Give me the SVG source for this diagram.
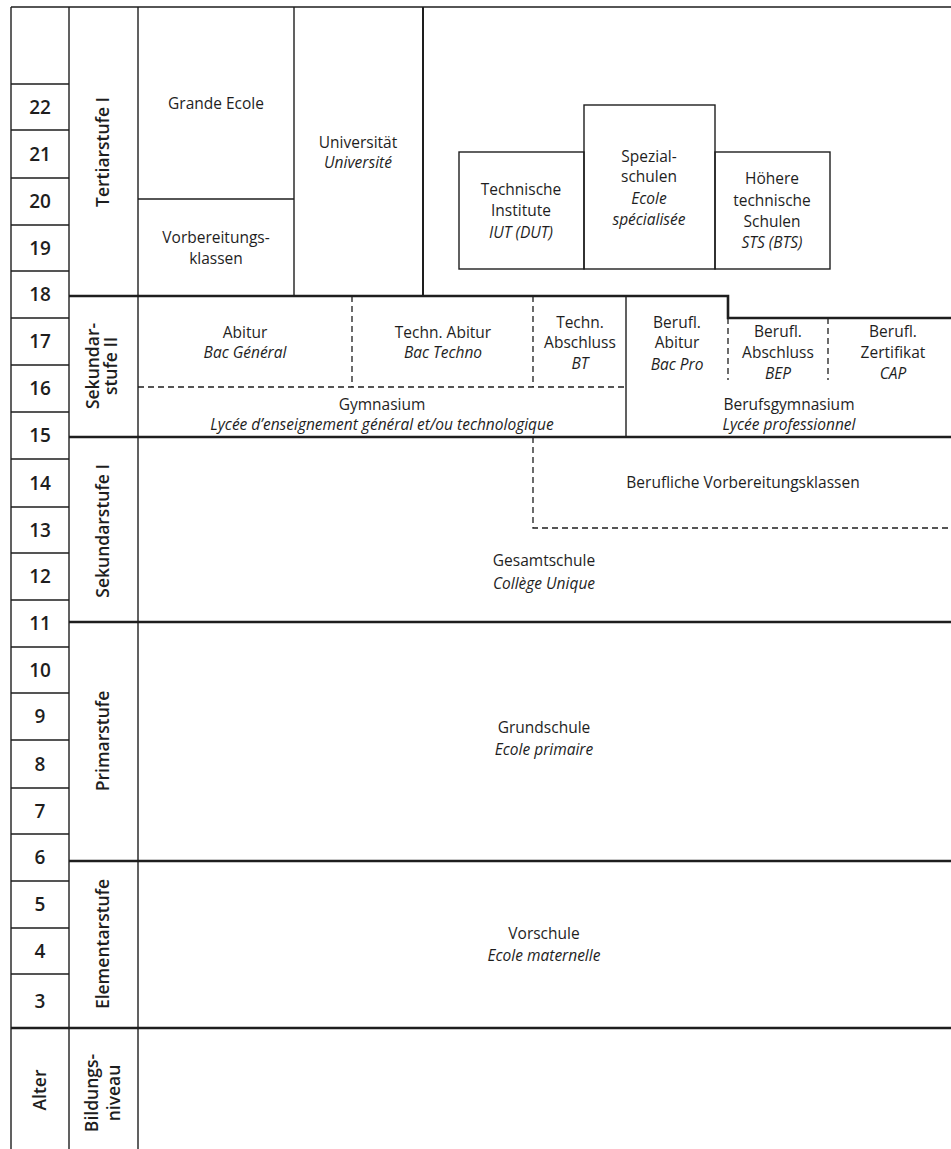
<svg xmlns="http://www.w3.org/2000/svg" width="951" height="1149" viewBox="0 0 951 1149">
<style>
.bg{fill:#fff}
.ln{stroke:#1e1e1e;stroke-width:1.4;fill:none}
.th{stroke:#1e1e1e;stroke-width:2.6;fill:none}
.ds{stroke:#1e1e1e;stroke-width:1.3;fill:none;stroke-dasharray:6 4}
text{font-family:"Open Sans","Noto Sans",sans-serif;fill:#1e1e1e}
.t{font-size:15.5px;text-anchor:middle}
.i{font-style:italic}
.n{font-size:19px;font-weight:600;text-anchor:middle}
.v{font-size:17.5px;font-weight:600;text-anchor:middle}
</style>
<rect class="bg" x="0" y="0" width="951" height="1149"/>

<g id="connectors">
  <!-- outer / column lines -->
  <line class="ln" x1="11" y1="7" x2="951" y2="7"/>
  <line class="ln" x1="11" y1="7" x2="11" y2="1149"/>
  <line class="ln" x1="69" y1="7" x2="69" y2="1149"/>
  <line class="ln" x1="138" y1="7" x2="138" y2="1149"/>
  <!-- age row lines -->
  <path class="ln" d="M11 84H69M11 130H69M11 178H69M11 225H69M11 271H69M11 318H69M11 365H69M11 412H69M11 459H69M11 507H69M11 553H69M11 600H69M11 647H69M11 693H69M11 740H69M11 788H69M11 834H69M11 881H69M11 928H69M11 974H69"/>
  <!-- stage boundaries -->
  <path class="th" d="M69 296H728V318H951"/>
  <line class="th" x1="69" y1="437" x2="951" y2="437"/>
  <line class="th" x1="69" y1="622" x2="951" y2="622"/>
  <line class="th" x1="69" y1="861" x2="951" y2="861"/>
  <line class="th" x1="11" y1="1028" x2="951" y2="1028"/>
</g>

<g id="tertiaer">
  <line class="ln" x1="294" y1="7" x2="294" y2="296"/>
  <line class="ln" x1="138" y1="199" x2="294" y2="199"/>
  <line class="ln" x1="423" y1="7" x2="423" y2="296" style="stroke-width:2"/>
</g>
<g id="grande-ecole"><text class="t" x="216" y="109">Grande Ecole</text></g>
<g id="vorbereitungsklassen"><text class="t" x="216" y="243">Vorbereitungs-</text><text class="t" x="216" y="264">klassen</text></g>
<g id="universitaet"><text class="t" x="358" y="148">Universität</text><text class="t i" x="358" y="168">Université</text></g>
<g id="technische-institute">
  <rect class="ln" x="459" y="152" width="125" height="117"/>
  <text class="t" x="521" y="195">Technische</text><text class="t" x="521" y="216">Institute</text><text class="t i" x="521" y="238">IUT (DUT)</text>
</g>
<g id="spezialschulen">
  <rect class="ln" x="584" y="105" width="131" height="164"/>
  <text class="t" x="649" y="162">Spezial-</text><text class="t" x="649" y="182">schulen</text><text class="t i" x="649" y="204">Ecole</text><text class="t i" x="649" y="225">spécialisée</text>
</g>
<g id="hoehere-technische-schulen">
  <rect class="ln" x="715" y="152" width="115" height="117"/>
  <text class="t" x="772" y="184">Höhere</text><text class="t" x="772" y="206">technische</text><text class="t" x="772" y="227">Schulen</text><text class="t i" x="772" y="248">STS (BTS)</text>
</g>

<g id="sek2">
  <line class="ds" x1="352" y1="296" x2="352" y2="387"/>
  <line class="ds" x1="533" y1="296" x2="533" y2="387"/>
  <line class="ds" x1="138" y1="387" x2="626" y2="387"/>
  <line class="ln" x1="626" y1="296" x2="626" y2="437"/>
  <line class="ds" x1="728" y1="318" x2="728" y2="380"/>
  <line class="ds" x1="828" y1="318" x2="828" y2="380"/>
</g>
<g id="abitur"><text class="t" x="245" y="338">Abitur</text><text class="t i" x="245" y="358">Bac Général</text></g>
<g id="techn-abitur"><text class="t" x="443" y="338">Techn. Abitur</text><text class="t i" x="443" y="358">Bac Techno</text></g>
<g id="techn-abschluss"><text class="t" x="580" y="328">Techn.</text><text class="t" x="580" y="348">Abschluss</text><text class="t i" x="580" y="369">BT</text></g>
<g id="berufl-abitur"><text class="t" x="677" y="328">Berufl.</text><text class="t" x="677" y="348">Abitur</text><text class="t i" x="677" y="370">Bac Pro</text></g>
<g id="berufl-abschluss"><text class="t" x="778" y="337">Berufl.</text><text class="t" x="778" y="358">Abschluss</text><text class="t i" x="778" y="379">BEP</text></g>
<g id="berufl-zertifikat"><text class="t" x="893" y="337">Berufl.</text><text class="t" x="893" y="358">Zertifikat</text><text class="t i" x="893" y="379">CAP</text></g>
<g id="gymnasium"><text class="t" x="382" y="410">Gymnasium</text><text class="t i" x="382" y="430">Lycée d’enseignement général et/ou technologique</text></g>
<g id="berufsgymnasium"><text class="t" x="789" y="410">Berufsgymnasium</text><text class="t i" x="789" y="430">Lycée professionnel</text></g>

<g id="sek1">
  <path class="ds" d="M533 437V528H951"/>
</g>
<g id="berufliche-vorbereitungsklassen"><text class="t" x="743" y="488">Berufliche Vorbereitungsklassen</text></g>
<g id="gesamtschule"><text class="t" x="544" y="566">Gesamtschule</text><text class="t i" x="544" y="589">Collège Unique</text></g>
<g id="grundschule"><text class="t" x="544" y="733">Grundschule</text><text class="t i" x="544" y="755">Ecole primaire</text></g>
<g id="vorschule"><text class="t" x="544" y="939">Vorschule</text><text class="t i" x="544" y="961">Ecole maternelle</text></g>

<g id="ages">
  <text class="n" x="40" y="114">22</text>
  <text class="n" x="40" y="161">21</text>
  <text class="n" x="40" y="208">20</text>
  <text class="n" x="40" y="255">19</text>
  <text class="n" x="40" y="301">18</text>
  <text class="n" x="40" y="348">17</text>
  <text class="n" x="40" y="395">16</text>
  <text class="n" x="40" y="442">15</text>
  <text class="n" x="40" y="490">14</text>
  <text class="n" x="40" y="537">13</text>
  <text class="n" x="40" y="583">12</text>
  <text class="n" x="40" y="630">11</text>
  <text class="n" x="40" y="677">10</text>
  <text class="n" x="40" y="723">9</text>
  <text class="n" x="40" y="771">8</text>
  <text class="n" x="40" y="818">7</text>
  <text class="n" x="40" y="864">6</text>
  <text class="n" x="40" y="911">5</text>
  <text class="n" x="40" y="958">4</text>
  <text class="n" x="40" y="1008">3</text>
</g>

<g id="stages">
  <text class="v" transform="translate(109 152) rotate(-90)">Tertiarstufe I</text>
  <text class="v" transform="translate(99 366) rotate(-90)">Sekundar-</text>
  <text class="v" transform="translate(117 366) rotate(-90)">stufe II</text>
  <text class="v" transform="translate(109 531) rotate(-90)">Sekundarstufe I</text>
  <text class="v" transform="translate(109 741) rotate(-90)">Primarstufe</text>
  <text class="v" transform="translate(109 944) rotate(-90)">Elementarstufe</text>
  <text class="v" transform="translate(46 1090) rotate(-90)">Alter</text>
  <text class="v" transform="translate(98 1093) rotate(-90)">Bildungs-</text>
  <text class="v" transform="translate(120 1093) rotate(-90)">niveau</text>
</g>
</svg>
